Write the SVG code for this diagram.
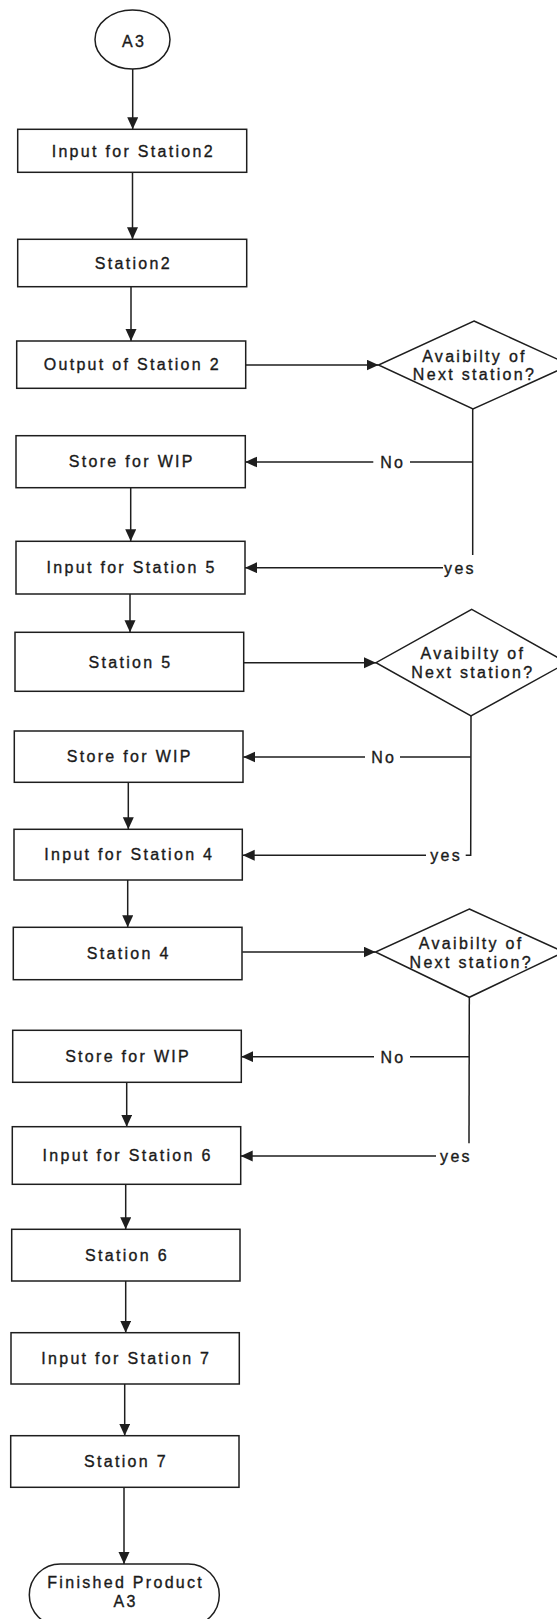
<svg xmlns="http://www.w3.org/2000/svg" width="557" height="1619" viewBox="0 0 557 1619">
  <style>
    .shape { fill: #ffffff; stroke: #1e1e1e; stroke-width: 1.5; }
    .wire { fill: none; stroke: #1e1e1e; stroke-width: 1.5; }
    .lbl { font-family: "Liberation Sans", Arial, sans-serif; font-size: 16px; letter-spacing: 2.3px; fill: #1a1a1a; stroke: #1a1a1a; stroke-width: 0.35; text-anchor: middle; }
  </style>
  <defs>
    <marker id="arrow" markerUnits="userSpaceOnUse" markerWidth="13" markerHeight="12" refX="12" refY="5.5" orient="auto">
      <path d="M0,0 L12,5.5 L0,11 z" fill="#1e1e1e"/>
    </marker>
  </defs>
  <rect width="557" height="1619" fill="#ffffff"/>

  <!-- connectors -->
  <g id="connectors">
    <line class="wire" x1="132.7" y1="69" x2="132.7" y2="129.3" marker-end="url(#arrow)"/>
    <line class="wire" x1="132.5" y1="172.3" x2="132.5" y2="239.3" marker-end="url(#arrow)"/>
    <line class="wire" x1="131" y1="286.7" x2="131" y2="341" marker-end="url(#arrow)"/>
    <line class="wire" x1="130.7" y1="487.7" x2="130.7" y2="541.3" marker-end="url(#arrow)"/>
    <line class="wire" x1="130" y1="594" x2="130" y2="632.3" marker-end="url(#arrow)"/>
    <line class="wire" x1="128.3" y1="782.3" x2="128.3" y2="829.3" marker-end="url(#arrow)"/>
    <line class="wire" x1="127.7" y1="880" x2="127.7" y2="927.3" marker-end="url(#arrow)"/>
    <line class="wire" x1="126.7" y1="1082.3" x2="126.7" y2="1126.7" marker-end="url(#arrow)"/>
    <line class="wire" x1="125.7" y1="1184.3" x2="125.7" y2="1229.3" marker-end="url(#arrow)"/>
    <line class="wire" x1="125.7" y1="1281" x2="125.7" y2="1332.7" marker-end="url(#arrow)"/>
    <line class="wire" x1="124.7" y1="1384" x2="124.7" y2="1435.7" marker-end="url(#arrow)"/>
    <line class="wire" x1="124" y1="1487.3" x2="124" y2="1564" marker-end="url(#arrow)"/>

    <!-- decision 1 -->
    <line class="wire" x1="245.7" y1="365" x2="378.5" y2="365" marker-end="url(#arrow)"/>
    <line class="wire" x1="472.7" y1="409" x2="472.7" y2="555"/>
    <line class="wire" x1="472.7" y1="462" x2="410" y2="462"/>
    <line class="wire" x1="373.3" y1="462" x2="245.3" y2="462" marker-end="url(#arrow)"/>
    <line class="wire" x1="443" y1="567.7" x2="245" y2="567.7" marker-end="url(#arrow)"/>
    <text class="lbl" x="392.8" y="467.8">No</text>
    <text class="lbl" x="460" y="573.5">yes</text>

    <!-- decision 2 -->
    <line class="wire" x1="244" y1="662.7" x2="376" y2="662.7" marker-end="url(#arrow)"/>
    <polyline class="wire" points="471,716 470.7,855.3 465.7,855.3"/>
    <line class="wire" x1="470.7" y1="757" x2="400" y2="757"/>
    <line class="wire" x1="365" y1="757" x2="243.3" y2="757" marker-end="url(#arrow)"/>
    <line class="wire" x1="426" y1="855.3" x2="242.7" y2="855.3" marker-end="url(#arrow)"/>
    <text class="lbl" x="383.7" y="762.8">No</text>
    <text class="lbl" x="446.2" y="861">yes</text>

    <!-- decision 3 -->
    <line class="wire" x1="242.3" y1="952" x2="375.5" y2="952" marker-end="url(#arrow)"/>
    <line class="wire" x1="469.3" y1="997.3" x2="469" y2="1143.3"/>
    <line class="wire" x1="469" y1="1056.7" x2="410" y2="1056.7"/>
    <line class="wire" x1="374" y1="1056.7" x2="241.3" y2="1056.7" marker-end="url(#arrow)"/>
    <line class="wire" x1="436" y1="1156" x2="240.7" y2="1156" marker-end="url(#arrow)"/>
    <text class="lbl" x="393" y="1062.5">No</text>
    <text class="lbl" x="456" y="1161.8">yes</text>
  </g>

  <!-- start terminal -->
  <g id="start">
    <ellipse class="shape" cx="132.5" cy="39.5" rx="37.5" ry="29.5"/>
    <text class="lbl" x="134" y="46.5">A3</text>
  </g>

  <g id="input-station2">
    <rect class="shape" x="17.7" y="129.3" width="229" height="43"/>
    <text class="lbl" x="133.3" y="156.5">Input for Station2</text>
  </g>
  <g id="station2">
    <rect class="shape" x="17.7" y="239.3" width="229" height="47.4"/>
    <text class="lbl" x="133.3" y="268.7">Station2</text>
  </g>
  <g id="output-station2">
    <rect class="shape" x="16.7" y="341" width="229" height="47.3"/>
    <text class="lbl" x="132.3" y="370.3">Output of Station 2</text>
  </g>
  <g id="decision-1">
    <polygon class="shape" points="474,321 570,365 473,409 378.5,365"/>
    <text class="lbl" x="474.5" y="361.5">Avaibilty of</text>
    <text class="lbl" x="474.5" y="380">Next station?</text>
  </g>
  <g id="store-wip-1">
    <rect class="shape" x="16" y="435.7" width="229.3" height="52"/>
    <text class="lbl" x="131.8" y="467.4">Store for WIP</text>
  </g>
  <g id="input-station5">
    <rect class="shape" x="16" y="541.3" width="229" height="52.7"/>
    <text class="lbl" x="131.6" y="573.3">Input for Station 5</text>
  </g>
  <g id="station5">
    <rect class="shape" x="15" y="632.3" width="228.7" height="59"/>
    <text class="lbl" x="130.5" y="667.5">Station 5</text>
  </g>
  <g id="decision-2">
    <polygon class="shape" points="471.7,609.3 567,662.7 471,716 376,662.7"/>
    <text class="lbl" x="472.8" y="658.7">Avaibilty of</text>
    <text class="lbl" x="472.8" y="678.3">Next station?</text>
  </g>
  <g id="store-wip-2">
    <rect class="shape" x="14.3" y="731" width="228.7" height="51.3"/>
    <text class="lbl" x="129.8" y="762.3">Store for WIP</text>
  </g>
  <g id="input-station4">
    <rect class="shape" x="14" y="829.3" width="228.3" height="50.7"/>
    <text class="lbl" x="129.3" y="860.3">Input for Station 4</text>
  </g>
  <g id="station4">
    <rect class="shape" x="13.3" y="927.3" width="228.7" height="52.4"/>
    <text class="lbl" x="128.8" y="959.2">Station 4</text>
  </g>
  <g id="decision-3">
    <polygon class="shape" points="469.3,909 564,952 469.3,997.3 375.5,952"/>
    <text class="lbl" x="471.2" y="948.7">Avaibilty of</text>
    <text class="lbl" x="471.2" y="968">Next station?</text>
  </g>
  <g id="store-wip-3">
    <rect class="shape" x="12.7" y="1030.3" width="228.6" height="52"/>
    <text class="lbl" x="128.1" y="1062">Store for WIP</text>
  </g>
  <g id="input-station6">
    <rect class="shape" x="12.3" y="1126.7" width="228.4" height="57.6"/>
    <text class="lbl" x="127.6" y="1161.2">Input for Station 6</text>
  </g>
  <g id="station6">
    <rect class="shape" x="11.7" y="1229.3" width="228.3" height="51.7"/>
    <text class="lbl" x="127" y="1260.9">Station 6</text>
  </g>
  <g id="input-station7">
    <rect class="shape" x="11" y="1332.7" width="228.3" height="51.3"/>
    <text class="lbl" x="126.3" y="1364">Input for Station 7</text>
  </g>
  <g id="station7">
    <rect class="shape" x="10.7" y="1435.7" width="228.3" height="51.6"/>
    <text class="lbl" x="126" y="1467.2">Station 7</text>
  </g>

  <!-- end terminal -->
  <g id="finished-product">
    <rect class="shape" x="29.3" y="1564" width="190" height="62" rx="31" ry="31"/>
    <text class="lbl" x="125.7" y="1587.5">Finished Product</text>
    <text class="lbl" x="125.7" y="1606.7">A3</text>
  </g>
</svg>
